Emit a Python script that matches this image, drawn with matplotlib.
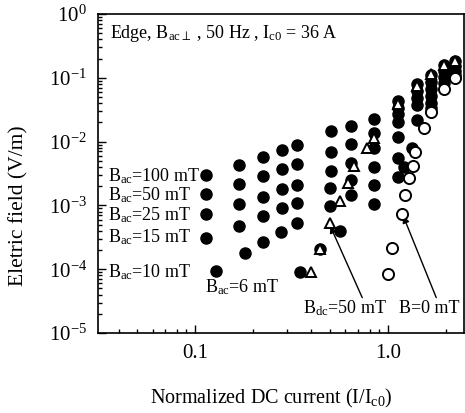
import matplotlib
matplotlib.use("Agg")
import matplotlib.pyplot as plt
from matplotlib.ticker import LogLocator, FixedLocator, FixedFormatter, NullFormatter, LogFormatterMathtext

plt.rcParams['font.family'] = ['Liberation Serif', 'DejaVu Serif']
plt.rcParams['mathtext.fontset'] = 'custom'
plt.rcParams['mathtext.rm'] = 'Liberation Serif'
plt.rcParams['mathtext.it'] = 'Liberation Serif:italic'
plt.rcParams['mathtext.bf'] = 'Liberation Serif:bold'

# ---- data ----
filled_x = [0.114, 0.114, 0.114, 0.114, 0.1285,
            0.168, 0.168, 0.168, 0.168, 0.1816,
            0.225, 0.225, 0.225, 0.225, 0.225,
            0.282, 0.282, 0.282, 0.282, 0.279,
            0.336, 0.336, 0.336, 0.336, 0.336, 0.348,
            0.504, 0.504, 0.504, 0.501, 0.501, 0.561, 0.444,
            0.641, 0.641, 0.641, 0.641, 0.641,
            0.839, 0.839, 0.846, 0.846, 0.846, 0.846,
            1.12, 1.12, 1.12, 1.12, 1.12, 1.12, 1.12, 1.21, 1.331,
            1.405, 1.405, 1.405, 1.405, 1.405,
            1.661, 1.661, 1.661, 1.661, 1.661, 1.661,
            1.94, 1.94, 1.94, 1.94,
            2.224, 2.224, 2.224, 2.224]
filled_y = [3.0e-3, 1.51e-3, 7.33e-4, 3.08e-4, 9.37e-5,
            4.30e-3, 2.17e-3, 1.05e-3, 4.75e-4, 1.79e-4,
            5.74e-3, 2.89e-3, 1.354e-3, 6.82e-4, 2.67e-4,
            7.39e-3, 3.72e-3, 1.81e-3, 9.10e-4, 3.83e-4,
            8.84e-3, 4.46e-3, 2.09e-3, 1.09e-3, 5.30e-4, 8.88e-5,
            1.44e-2, 6.99e-3, 3.52e-3, 1.87e-3, 9.78e-4, 3.90e-4, 2.04e-4,
            1.76e-2, 9.17e-3, 4.57e-3, 2.50e-3, 1.46e-3,
            2.26e-2, 1.35e-2, 8.08e-3, 4.07e-3, 2.09e-3, 1.07e-3,
            4.33e-2, 3.42e-2, 2.71e-2, 2.03e-2, 1.20e-2, 5.53e-3, 2.79e-3, 4.07e-3, 7.94e-3,
            7.99e-2, 6.21e-2, 4.82e-2, 3.75e-2, 2.18e-2,
            0.1106, 8.60e-2, 6.67e-2, 5.18e-2, 4.03e-2, 3.36e-2,
            0.1587, 0.1278, 0.1029, 8.29e-2,
            0.1834, 0.1531, 0.1278, 0.1106]

open_x = [0.992, 1.045, 1.175, 1.225, 1.277, 1.336, 1.369, 1.527, 1.661, 1.94, 2.224]
open_y = [8.41e-5, 2.13e-4, 7.33e-4, 1.43e-3, 2.66e-3, 4.19e-3, 6.80e-3, 1.62e-2, 2.94e-2, 6.67e-2, 9.93e-2]

tri_x = [0.399, 0.444, 0.4965, 0.559, 0.615, 0.667, 0.776, 0.839, 1.12, 1.405, 1.661, 1.94, 2.224]
tri_y = [9.04e-5, 2.04e-4, 5.36e-4, 1.18e-3, 2.27e-3, 4.15e-3, 7.85e-3, 1.13e-2, 3.88e-2, 7.44e-2, 0.1147, 0.1587, 0.1834]

x_ticks = [0.1, 1.0]
x_tick_labels = ["0.1", "1.0"]

series_labels = [r"B$_{\rm ac}$=100 mT", r"B$_{\rm ac}$=50 mT", r"B$_{\rm ac}$=25 mT",
                 r"B$_{\rm ac}$=15 mT", r"B$_{\rm ac}$=10 mT"]

# ---- figure ----
fig = plt.figure(figsize=(4.65, 4.13), dpi=100)
ax = fig.add_axes([98/465, 80/413, 366/465, 319/413])

ax.set_xscale('log')
ax.set_yscale('log')
ax.set_xlim(0.0313, 2.47)
ax.set_ylim(1e-5, 1.0)

ms = 8.0
ax.plot(filled_x, filled_y, 'o', ls='none', ms=ms, mfc='black', mec='black', zorder=3)
ax.plot(open_x, open_y, 'o', ls='none', ms=ms, mfc='white', mec='black', mew=1.4, zorder=4)
ax.plot(tri_x, tri_y, '^', ls='none', ms=7, mfc='white', mec='black', mew=1.4, zorder=5)

# ticks
ax.xaxis.set_major_locator(FixedLocator(x_ticks))
ax.xaxis.set_major_formatter(FixedFormatter(x_tick_labels))
ax.xaxis.set_minor_locator(LogLocator(base=10, subs=range(2, 10), numticks=20))
ax.xaxis.set_minor_formatter(NullFormatter())
ax.yaxis.set_major_locator(LogLocator(base=10, numticks=10))
ax.yaxis.set_major_formatter(LogFormatterMathtext())
ax.yaxis.set_minor_locator(LogLocator(base=10, subs=range(2, 10), numticks=20))
ax.yaxis.set_minor_formatter(NullFormatter())
ax.tick_params(which='both', direction='in', top=False, right=False, labelsize=15, width=1.0)
ax.tick_params(which='major', length=6, pad=8)
ax.tick_params(which='minor', length=3)
for s in ax.spines.values():
    s.set_linewidth(1.2)

ax.set_xlabel(r"Normalized DC current (I/I$_{\rm c0}$)", fontsize=14.5)
ax.xaxis.set_label_coords(0.473, -0.168)
ax.set_ylabel("Eletric field (V/m)", fontsize=15.5)
ax.yaxis.set_label_coords(-0.19, 0.40)

# annotations
ax.text(0.033, 0.940, r"Edge, B$_{\rm ac\perp}$ , 50 Hz , I$_{\rm c0}$ = 36 A",
        transform=ax.transAxes, fontsize=13, va='center', ha='left')
label_y = [0.492, 0.433, 0.370, 0.301, 0.191]
for lab, fy in zip(series_labels, label_y):
    ax.text(0.027, fy, lab, transform=ax.transAxes, fontsize=13, va='center', ha='left')
ax.text(0.292, 0.144, r"B$_{\rm ac}$=6 mT", transform=ax.transAxes, fontsize=13, va='center', ha='left')
ax.text(0.560, 0.078, r"B$_{\rm dc}$=50 mT", transform=ax.transAxes, fontsize=13, va='center', ha='left')
ax.text(0.822, 0.078, r"B=0 mT", transform=ax.transAxes, fontsize=13, va='center', ha='left')

arrow = dict(arrowstyle='-|>', lw=1.0, color='black', mutation_scale=10, shrinkA=0, shrinkB=0)
ax.annotate("", xy=(0.5005, 4.75e-4), xytext=(0.733, 3.59e-5), arrowprops=arrow)
ax.annotate("", xy=(1.196, 6.82e-4), xytext=(1.773, 3.59e-5), arrowprops=arrow)

fig.savefig("out.png", dpi=100)
